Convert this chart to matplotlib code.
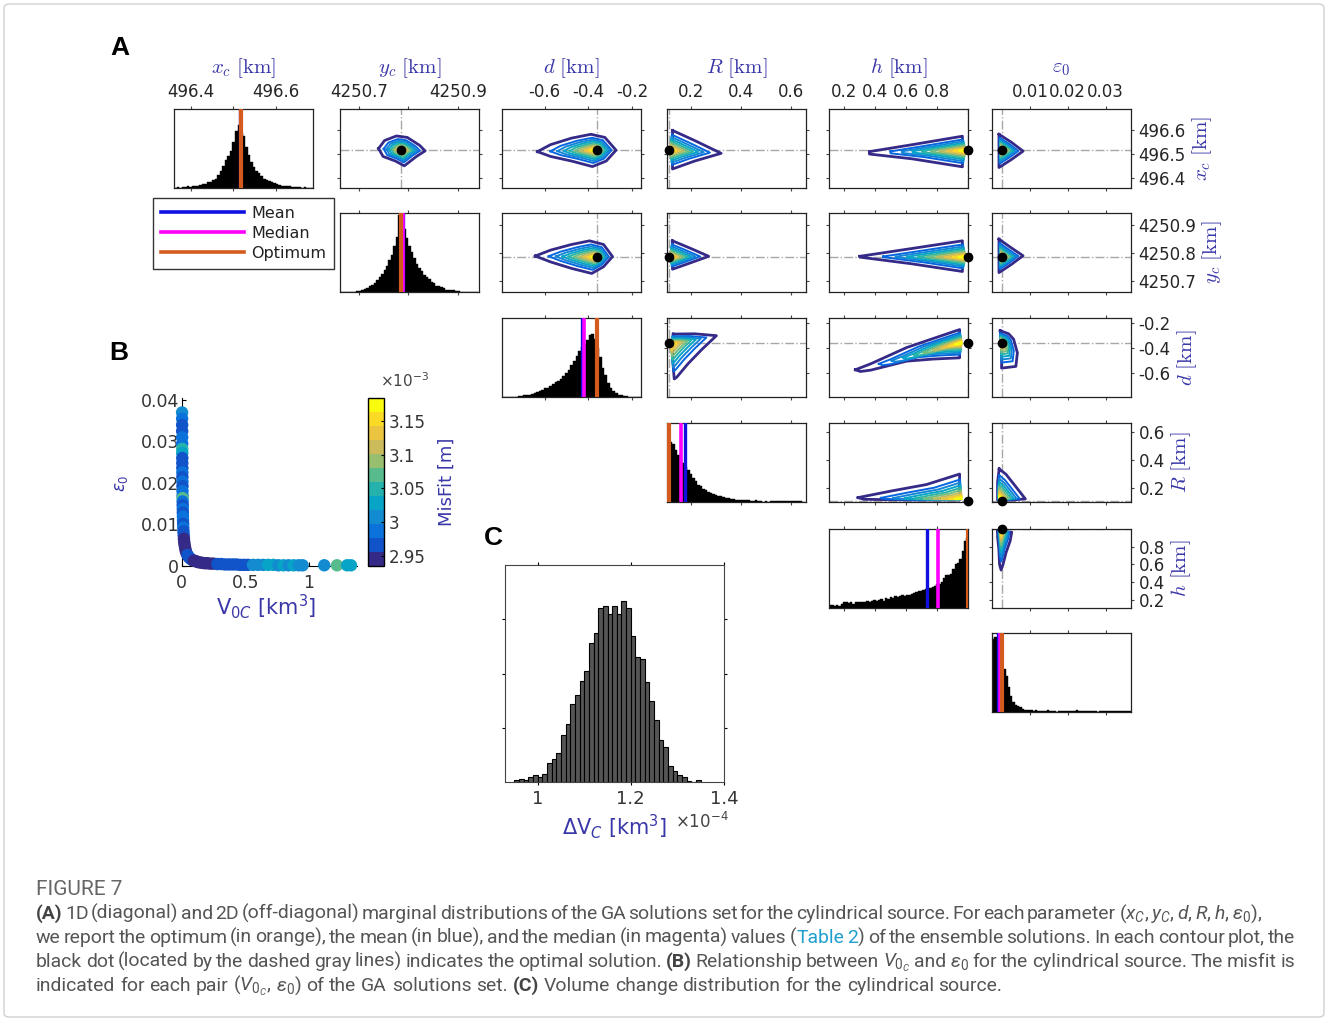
import numpy as np
import matplotlib
matplotlib.use('Agg')
import matplotlib.pyplot as plt
from matplotlib.colors import LinearSegmentedColormap, Normalize
from matplotlib.lines import Line2D
from matplotlib.patches import FancyBboxPatch
from matplotlib.cm import ScalarMappable
from matplotlib import font_manager

# ------------------------------------------------------------------ data (A)
param_titles = [r'$x_c\ \mathrm{[km]}$', r'$y_c\ \mathrm{[km]}$', r'$d\ \mathrm{[km]}$',
                r'$R\ \mathrm{[km]}$', r'$h\ \mathrm{[km]}$', r'$\varepsilon_0$']
param_lims = [(496.36, 496.688), (4250.662, 4250.943), (-0.795, -0.16),
              (0.103, 0.66), (0.105, 1.0), (0.0, 0.0367)]
param_ticks = [[496.4, 496.5, 496.6], [4250.7, 4250.8, 4250.9], [-0.6, -0.4, -0.2],
               [0.2, 0.4, 0.6], [0.2, 0.4, 0.6, 0.8], [0.01, 0.02, 0.03]]
top_ticklabels = [['496.4', '', '496.6'], ['4250.7', '', '4250.9'], ['-0.6', '-0.4', '-0.2'],
                  ['0.2', '0.4', '0.6'], ['0.2', '0.4', '0.6', '0.8'], ['0.01', '0.02', '0.03']]
right_ticklabels = [['496.4', '496.5', '496.6'], ['4250.7', '4250.8', '4250.9'],
                    ['-0.6', '-0.4', '-0.2'], ['0.2', '0.4', '0.6'], ['0.2', '0.4', '0.6', '0.8']]

optimum_val = [496.517, 4250.785, -0.363, 0.113, 0.997, 0.0026]
mean_val = [496.516, 4250.789, -0.431, 0.177, 0.733, 0.0015]
median_val = [496.517, 4250.790, -0.421, 0.159, 0.807, 0.0020]

hist_start = [496.360, 4250.665, -0.795, 0.105, 0.105, 0.0]
hist_width = [0.006, 0.005, 0.012, 0.010, 0.015, 0.0006]
xc_counts = [0, 1, 0, 1, 1, 2, 1, 2, 3, 3, 4, 5, 5, 7, 8, 10, 12, 16, 22, 28,
             35, 40, 47, 58, 72, 80, 70, 66, 52, 42, 33, 27, 22, 19, 15, 12, 10, 9, 7, 6,
             5, 4, 3, 3, 2, 2, 1, 1, 1, 1, 0, 1, 0, 0, 0]
yc_counts = [0, 0, 0, 0, 0, 0, 1, 1, 2, 4, 5, 7, 9, 12, 15, 19, 23, 28, 33, 40,
             47, 58, 70, 97, 95, 80, 68, 58, 50, 43, 36, 30, 26, 22, 19, 16, 13, 11, 8, 7,
             6, 5, 3, 3, 2, 2, 1, 1, 0, 0, 0, 0, 0, 0, 0]
d_counts = [0, 0, 0, 0, 0, 0, 1, 1, 2, 3, 3, 4, 5, 6, 7, 9, 12, 11, 14, 17,
            19, 20, 23, 26, 30, 34, 40, 46, 52, 58, 63, 67, 72, 78, 80, 74, 62, 50, 37, 28,
            18, 11, 7, 5, 3, 2, 1, 1, 0, 0, 0, 0, 0]
R_counts = [95, 76, 74, 66, 60, 55, 49, 44, 40, 35, 30, 26, 22, 20, 17, 15, 13, 11, 10, 9,
            8, 7, 6, 5, 5, 4, 4, 3, 3, 2, 2, 2, 2, 1, 1, 2, 1, 1, 0, 1,
            0, 1, 1, 1, 1, 1, 1, 1, 1, 1, 1, 1, 1, 1, 0]
h_counts = [4, 4, 3, 4, 3, 5, 7, 7, 6, 7, 5, 7, 8, 7, 8, 7, 9, 8, 9, 10,
            9, 10, 11, 9, 13, 12, 14, 13, 15, 14, 15, 16, 15, 17, 16, 18, 19, 20, 21, 22,
            23, 24, 24, 25, 26, 28, 30, 31, 33, 38, 42, 42, 43, 50, 56, 57, 62, 72, 85, 88]
eps_counts = [92, 95, 93, 90, 80, 54, 45, 32, 20, 13, 9, 7, 6, 4, 3, 3, 2, 2, 1, 2,
              1, 1, 1, 1, 2, 1, 1, 1, 0, 1, 1, 1, 1, 1, 1, 1, 1, 2, 1, 1,
              1, 1, 1, 1, 1, 1, 0, 1, 1, 1, 1, 1, 1, 1, 1, 1, 1, 1, 1, 1, 1]
hist_counts = [xc_counts, yc_counts, d_counts, R_counts, h_counts, eps_counts]

# outer contour of each 2D marginal (row param i on y, column param j on x), and its peak
contour_outline = {
    (0, 1): ([4250.740, 4250.752, 4250.776, 4250.798, 4250.823, 4250.834, 4250.8165, 4250.792, 4250.774, 4250.749],
             [496.524, 496.557, 496.576, 496.570, 496.537, 496.514, 496.491, 496.452, 496.472, 496.491]),
    (0, 2): ([-0.633, -0.573, -0.4775, -0.389, -0.325, -0.274, -0.319, -0.382, -0.4775, -0.573],
             [496.511, 496.540, 496.567, 496.583, 496.570, 496.517, 496.472, 496.449, 496.472, 496.491]),
    (0, 3): ([0.125, 0.214, 0.320, 0.214, 0.125],
             [496.599, 496.557, 496.504, 496.472, 496.439]),
    (0, 4): ([0.365, 0.642, 0.964, 0.964, 0.642, 0.365],
             [496.511, 496.540, 496.575, 496.448, 496.481, 496.501]),
    (0, 5): ([0.00184, 0.0051, 0.0082, 0.0051, 0.00184],
             [496.583, 496.550, 496.513, 496.478, 496.445]),
    (1, 2): ([-0.643, -0.573, -0.4775, -0.395, -0.331, -0.290, -0.331, -0.385, -0.4775, -0.573],
             [4250.790, 4250.811, 4250.831, 4250.844, 4250.831, 4250.788, 4250.752, 4250.728, 4250.746, 4250.769]),
    (1, 3): ([0.125, 0.198, 0.270, 0.198, 0.125],
             [4250.844, 4250.817, 4250.789, 4250.766, 4250.743]),
    (1, 4): ([0.304, 0.642, 0.964, 0.964, 0.642, 0.304],
             [4250.789, 4250.817, 4250.844, 4250.735, 4250.762, 4250.786]),
    (1, 5): ([0.00184, 0.0051, 0.0082, 0.0051, 0.00184],
             [4250.850, 4250.819, 4250.791, 4250.760, 4250.731]),
    (2, 3): ([0.128, 0.214, 0.301, 0.242, 0.187, 0.142, 0.132, 0.125],
             [-0.289, -0.287, -0.302, -0.414, -0.528, -0.636, -0.650, -0.4775]),
    (2, 4): ([0.275, 0.374, 0.604, 0.776, 0.946, 0.946, 0.776, 0.604, 0.374, 0.307],
             [-0.576, -0.528, -0.398, -0.325, -0.253, -0.480, -0.490, -0.507, -0.579, -0.590]),
    (2, 5): ([0.00217, 0.0044, 0.0057, 0.0067, 0.0063, 0.00253, 0.00257],
             [-0.262, -0.287, -0.330, -0.439, -0.549, -0.563, -0.446]),
    (3, 4): ([0.292, 0.508, 0.732, 0.946, 0.946, 0.642, 0.329],
             [0.134, 0.181, 0.226, 0.300, 0.117, 0.117, 0.122]),
    (3, 5): ([0.0019, 0.0037, 0.0062, 0.0088, 0.0055, 0.00147, 0.00147],
             [0.336, 0.298, 0.214, 0.125, 0.117, 0.117, 0.242]),
    (4, 5): ([0.00147, 0.0052, 0.0048, 0.0037, 0.0029, 0.0024, 0.0020, 0.0018, 0.00147],
             [0.973, 0.964, 0.866, 0.7315, 0.597, 0.535, 0.597, 0.776, 0.9105]),
}
contour_peak = {
    (0, 1): (4250.787, 496.517), (0, 2): (-0.366, 496.517), (0, 3): (0.115, 496.517),
    (0, 4): (0.985, 496.515), (0, 5): (0.0026, 496.517),
    (1, 2): (-0.366, 4250.786), (1, 3): (0.115, 4250.786), (1, 4): (0.985, 4250.786),
    (1, 5): (0.0026, 4250.786),
    (2, 3): (0.118, -0.37), (2, 4): (0.96, -0.36), (2, 5): (0.0024, -0.36),
    (3, 4): (0.96, 0.125), (3, 5): (0.0020, 0.13),
    (4, 5): (0.0024, 0.975),
}

# ------------------------------------------------------------------ data (B)
V0c = [0.003, 0.0033, 0.0035, 0.0036, 0.0038, 0.0040, 0.0041, 0.0043, 0.0045, 0.0047,
       0.0049, 0.0051, 0.0054, 0.0057, 0.0060, 0.0064, 0.0068, 0.0070, 0.0074, 0.0078,
       0.0083, 0.0089, 0.0096, 0.0104, 0.0113, 0.0124, 0.0138, 0.0155, 0.0176, 0.0200,
       0.0230, 0.0270, 0.0320, 0.0380, 0.0450, 0.0530, 0.0620, 0.0720, 0.0830,
       0.095, 0.110, 0.125, 0.140, 0.160, 0.180, 0.200, 0.225, 0.250, 0.280,
       0.310, 0.340, 0.370, 0.400, 0.430, 0.460, 0.490, 0.520, 0.560, 0.600,
       0.640, 0.680, 0.720, 0.760, 0.800, 0.840, 0.880, 0.920, 0.950, 1.120,
       1.220, 1.300, 1.330]
eps0 = [0.0370, 0.0355, 0.0340, 0.0325, 0.0310, 0.0295, 0.0282, 0.0272, 0.0260, 0.0248,
        0.0236, 0.0225, 0.0214, 0.0203, 0.0192, 0.0180, 0.0169, 0.0163, 0.0155, 0.0146,
        0.0137, 0.0128, 0.0119, 0.0110, 0.0101, 0.0092, 0.0083, 0.0074, 0.0065, 0.0057,
        0.0050, 0.0043, 0.0036, 0.0030, 0.0026, 0.0022, 0.0019, 0.0016, 0.0014,
        0.0012, 0.0011, 0.0009, 0.0008, 0.0007, 0.0006, 0.0006, 0.0005, 0.0005, 0.0004,
        0.0004, 0.0003, 0.0003, 0.0003, 0.0003, 0.0002, 0.0002, 0.0002, 0.0002, 0.0002,
        0.0002, 0.0002, 0.0002, 0.0001, 0.0001, 0.0001, 0.0001, 0.0001, 0.0001, 0.0001,
        0.0001, 0.0001, 0.0001]
misfit = [3.00, 2.98, 2.97, 2.97, 2.98, 2.99, 3.04, 3.03, 2.97, 2.96,
          2.97, 2.98, 2.97, 2.98, 2.97, 2.98, 2.99, 3.06, 2.98, 2.97,
          2.98, 2.97, 2.98, 2.99, 2.97, 2.98, 2.97, 2.96, 2.95, 2.95,
          2.94, 2.95, 2.95, 2.94, 2.96, 2.97, 2.96, 2.97, 2.96,
          2.95, 2.94, 2.94, 2.94, 2.94, 2.94, 2.94, 2.94, 2.95, 2.97,
          2.97, 2.96, 2.97, 2.97, 2.97, 2.96, 2.97, 2.97, 3.01, 3.00,
          3.01, 3.02, 3.02, 3.01, 3.02, 3.01, 3.02, 3.01, 3.00, 3.00,
          3.07, 3.03, 3.02]
cbar_ticks = [2.95, 3.0, 3.05, 3.1, 3.15]
cbar_ticklabels = ['2.95', '3', '3.05', '3.1', '3.15']

# ------------------------------------------------------------------ data (C)
dv_start = 0.95
dv_width = 0.01
dv_counts = [3, 5, 4, 9, 13, 10, 15, 35, 42, 53, 86, 107, 144, 161, 186, 205, 257, 275, 321, 324,
             309, 325, 309, 333, 320, 269, 230, 227, 184, 150, 114, 77, 65, 30, 21, 13, 10, 1, 0, 4]
dv_ticks = [1.0, 1.2, 1.4]
dv_ticklabels = ['1', '1.2', '1.4']

# ------------------------------------------------------------------ style
names = {f.name for f in font_manager.fontManager.ttflist}
cap_family = 'Liberation Sans Narrow' if 'Liberation Sans Narrow' in names else 'Roboto'
plt.rcParams['font.family'] = ['DejaVu Sans']
plt.rcParams['mathtext.fontset'] = 'custom'
plt.rcParams['mathtext.rm'] = cap_family
plt.rcParams['mathtext.it'] = cap_family + ':italic'
plt.rcParams['mathtext.bf'] = cap_family + ':bold'

C_LAB = '#3a37a8'
C_MEAN = '#1010e0'
C_MED = '#ff00ff'
C_OPT = '#d55a1e'
C_TICK = '#262626'
_parula_anchors = [(0.2081, 0.1663, 0.5292), (0.0117, 0.3875, 0.8820), (0.0793, 0.5200, 0.8312),
                   (0.0228, 0.6535, 0.7768), (0.2178, 0.7250, 0.6193), (0.5709, 0.7485, 0.4494),
                   (0.8507, 0.7299, 0.3360), (0.9880, 0.8066, 0.1794), (0.9763, 0.9831, 0.0538)]
parula = LinearSegmentedColormap.from_list('parula', _parula_anchors, N=256)

W, H = 1328, 1021
fig = plt.figure(figsize=(W / 100, H / 100), dpi=100)
fig.patch.set_facecolor('white')


def add_ax(l, t, w, h):
    return fig.add_axes([l / W, 1 - (t + h) / H, w / W, h / H])


def ftext(x, y, s, **kw):
    return fig.text(x / W, 1 - y / H, s, **kw)


fig.patches.append(FancyBboxPatch((4 / W, 4 / H), 1320 / W, 1013 / H,
                                  boxstyle='round,pad=0,rounding_size=0.004',
                                  transform=fig.transFigure, fill=False,
                                  edgecolor='#d0d0d0', linewidth=1.0))

# ------------------------------------------------------------------ panel A
col_left = [174, 340, 502, 667, 829, 992]
row_top = [109, 213, 318, 423, 529, 633]
cell_w, cell_h = 139, 79
shrink = [1.0, 0.78, 0.66, 0.55, 0.45, 0.36, 0.27, 0.19, 0.12, 0.06]
shade = [0.0, 0.14, 0.25, 0.36, 0.47, 0.58, 0.69, 0.80, 0.90, 1.0]

for i in range(6):
    for j in range(i, 6):
        ax = add_ax(col_left[j], row_top[i], cell_w, cell_h)
        ax.set_xlim(param_lims[j])
        ax.set_xticks(param_ticks[j])
        if i == j:
            counts = hist_counts[i]
            lefts = hist_start[i] + hist_width[i] * np.arange(len(counts))
            ax.bar(lefts, counts, width=hist_width[i], align='edge', color='black',
                   edgecolor='black', linewidth=0.3, zorder=2)
            ax.set_ylim(0, 100)
            ax.set_yticks([])
            ax.axvline(mean_val[i], color=C_MEAN, lw=2.4, zorder=3)
            ax.axvline(median_val[i], color=C_MED, lw=2.6, zorder=3)
            ax.axvline(optimum_val[i], color=C_OPT, lw=3.0, zorder=4)
        else:
            ax.set_ylim(param_lims[i])
            ax.set_yticks(param_ticks[i])
            xo, yo = optimum_val[j], optimum_val[i]
            ax.axvline(xo, color='#a8a8a8', lw=1.0, ls='-.', zorder=1)
            ax.axhline(yo, color='#a8a8a8', lw=1.0, ls='-.', zorder=1)
            X = np.array(contour_outline[(i, j)][0])
            Y = np.array(contour_outline[(i, j)][1])
            px, py = contour_peak[(i, j)]
            for s, t in zip(shrink, shade):
                cx = px + s * (X - px)
                cy = py + s * (Y - py)
                ax.plot(np.r_[cx, cx[0]], np.r_[cy, cy[0]], color=parula(t),
                        lw=2.0 if s == 1.0 else 1.4, zorder=2)
            ax.plot([xo], [yo], 'o', color='black', ms=6, zorder=5, clip_on=False)
        ax.tick_params(direction='out', length=2.5, width=0.8, color='#444444',
                       labelcolor=C_TICK, labelsize=12,
                       top=True, bottom=True, left=(i != j), right=(i != j),
                       labeltop=(i == 0), labelbottom=False,
                       labelleft=False, labelright=(j == 5 and i != j), pad=3)
        if i == 0:
            ax.set_xticklabels(top_ticklabels[j])
        if j == 5 and i != j:
            ax.set_yticklabels(right_ticklabels[i])
            ax.yaxis.set_label_position('right')
            ax.set_ylabel(param_titles[i], rotation=90, fontsize=15, color=C_LAB,
                          labelpad=3, math_fontfamily='cm')
        for sp in ax.spines.values():
            sp.set_linewidth(0.9)
            sp.set_color('#222222')

for j in range(6):
    ftext(col_left[j] + cell_w / 2, 68, param_titles[j], ha='center', va='center',
          fontsize=15, color=C_LAB, math_fontfamily='cm')

handles = [Line2D([], [], color=C_MEAN, lw=2.6), Line2D([], [], color=C_MED, lw=2.6),
           Line2D([], [], color=C_OPT, lw=2.6)]
leg = fig.legend(handles, ['Mean', 'Median', 'Optimum'], loc='upper left',
                 bbox_to_anchor=(153 / W, 1 - 198 / H), fontsize=11.5, frameon=True,
                 fancybox=False, edgecolor='black', handlelength=5.2, borderpad=0.5,
                 labelspacing=0.3, handletextpad=0.45, borderaxespad=0)
leg.get_frame().set_linewidth(1.0)
for t in leg.get_texts():
    t.set_color('#222222')

ftext(120, 48, 'A', fontsize=19, weight='bold', family='Liberation Sans', ha='center', va='center')
ftext(119, 353, 'B', fontsize=19, weight='bold', family='Liberation Sans', ha='center', va='center')
ftext(493, 538, 'C', fontsize=19, weight='bold', family='Liberation Sans', ha='center', va='center')

# ------------------------------------------------------------------ panel B
cmap12 = parula.resampled(12)
normB = Normalize(vmin=2.935, vmax=3.185)
axB = add_ax(181.7, 398, 175, 167.7)
axB.scatter(V0c, eps0, c=misfit, cmap=cmap12, norm=normB, s=80, edgecolors='none',
            clip_on=False, zorder=3)
axB.set_xlim(0, 1.375)
axB.set_ylim(0, 0.0405)
axB.spines['top'].set_visible(False)
axB.spines['right'].set_visible(False)
axB.set_xticks([0, 0.5, 1])
axB.set_xticklabels(['0', '0.5', '1'])
axB.set_yticks([0, 0.01, 0.02, 0.03, 0.04])
axB.set_yticklabels(['0', '0.01', '0.02', '0.03', '0.04'])
axB.tick_params(direction='in', length=3, labelsize=12.5, labelcolor='#333333', pad=2)
axB.tick_params(axis='x', pad=6)
ftext(266, 607, r'V$_{0C}$ [km$^3$]', ha='center', va='center', fontsize=15, color=C_LAB,
      math_fontfamily='dejavusans')
ftext(121, 483, r'$\varepsilon_0$', ha='center', va='center', fontsize=12, color=C_LAB,
      rotation=90, math_fontfamily='dejavusans')

cax = add_ax(368.3, 397.7, 16, 168)
cb = fig.colorbar(ScalarMappable(norm=normB, cmap=cmap12), cax=cax, ticks=cbar_ticks)
cb.ax.set_yticklabels(cbar_ticklabels)
cb.ax.tick_params(direction='in', length=2, labelsize=12, labelcolor='#333333')
cb.outline.set_linewidth(1.0)
ftext(405, 381, r'$\times$10$^{\mathsf{-3}}$', ha='center', va='center', fontsize=11,
      color='#444444', math_fontfamily='dejavusans')
ftext(447, 482, 'MisFit [m]', ha='center', va='center', fontsize=13, color=C_LAB, rotation=90)

# ------------------------------------------------------------------ panel C
axC = add_ax(505, 565, 219, 217)
dv_lefts = dv_start + dv_width * np.arange(len(dv_counts))
axC.bar(dv_lefts, dv_counts, width=dv_width, align='edge', color='#555555',
        edgecolor='black', linewidth=0.8)
axC.set_xlim(0.93, 1.4)
axC.set_ylim(0, 400)
axC.set_xticks(dv_ticks)
axC.set_xticklabels(dv_ticklabels)
axC.set_yticks([100, 200, 300])
axC.tick_params(direction='out', length=2.5, labelsize=13, labelcolor='#333333',
                top=True, right=True, labelleft=False, pad=3)
for sp in axC.spines.values():
    sp.set_color('#444444')
ftext(615, 827, r'$\Delta$V$_C$ [km$^3$]', ha='center', va='center', fontsize=15, color=C_LAB,
      math_fontfamily='dejavusans')
ftext(702, 822, r'$\times$10$^{\mathsf{-4}}$', ha='center', va='center', fontsize=12,
      color='#444444', math_fontfamily='dejavusans')

# ------------------------------------------------------------------ caption
renderer = fig.canvas.get_renderer()
CAP = '#555555'
BOLD = {'weight': 'bold', 'color': '#444444'}
LINK = {'color': '#1f9fcf'}


def segs(word):
    return [(word, {})] if isinstance(word, str) else word


def seg_width(s, kw, fs):
    t = fig.text(0, 0, s, fontsize=fs, family=cap_family, **kw)
    w = t.get_window_extent(renderer).width
    t.remove()
    return w


def word_width(word, fs):
    return sum(seg_width(s, kw, fs) for s, kw in segs(word))


def draw_line(words, y, fs, x0=36, right=None):
    widths = [word_width(w, fs) for w in words]
    space = seg_width('a a', {}, fs) - seg_width('aa', {}, fs)
    gap = space if right is None else (right - x0 - sum(widths)) / (len(words) - 1)
    x = x0
    for w, ww in zip(words, widths):
        xx = x
        for s, kw in segs(w):
            kw2 = dict(color=CAP)
            kw2.update(kw)
            t = ftext(xx, y, s, fontsize=fs, family=cap_family, va='baseline', ha='left', **kw2)
            xx += t.get_window_extent(renderer).width
        x += ww + gap


L1 = [[('(A)', BOLD)]] + ('1D (diagonal) and 2D (off-diagonal) marginal distributions of the GA '
                          'solutions set for the cylindrical source. For each parameter').split() + \
     [r'($x_C$,', r'$y_C$,', r'$d$,', r'$R$,', r'$h$,', r'$\varepsilon_0$),']
L2 = 'we report the optimum (in orange), the mean (in blue), and the median (in magenta) values'.split() + \
     [[('(', {}), ('Table', LINK)], [('2', LINK), (')', {})]] + \
     'of the ensemble solutions. In each contour plot, the'.split()
L3 = 'black dot (located by the dashed gray lines) indicates the optimal solution.'.split() + \
     [[('(B)', BOLD)]] + 'Relationship between'.split() + [r'$V_{0_C}$'] + ['and'] + \
     [r'$\varepsilon_0$'] + 'for the cylindrical source. The misfit is'.split()
L4 = 'indicated for each pair'.split() + [r'($V_{0_C}$,', r'$\varepsilon_0$)'] + \
     'of the GA solutions set.'.split() + [[('(C)', BOLD)]] + \
     'Volume change distribution for the cylindrical source.'.split()

base_fs = 12.0
space0 = seg_width('a a', {}, base_fs) - seg_width('aa', {}, base_fs)
nat4 = sum(word_width(w, base_fs) for w in L4) + space0 * (len(L4) - 1)
cap_fs = base_fs * 964.0 / nat4

ftext(36, 895, 'FIGURE 7', fontsize=cap_fs * 1.08, family=cap_family, color='#666666',
      va='baseline', ha='left')
draw_line(L1, 919, cap_fs, right=1262)
draw_line(L2, 943, cap_fs, right=1295)
draw_line(L3, 967, cap_fs, right=1295)
draw_line(L4, 991, cap_fs)

fig.savefig('out.png', dpi=100, facecolor='white')
